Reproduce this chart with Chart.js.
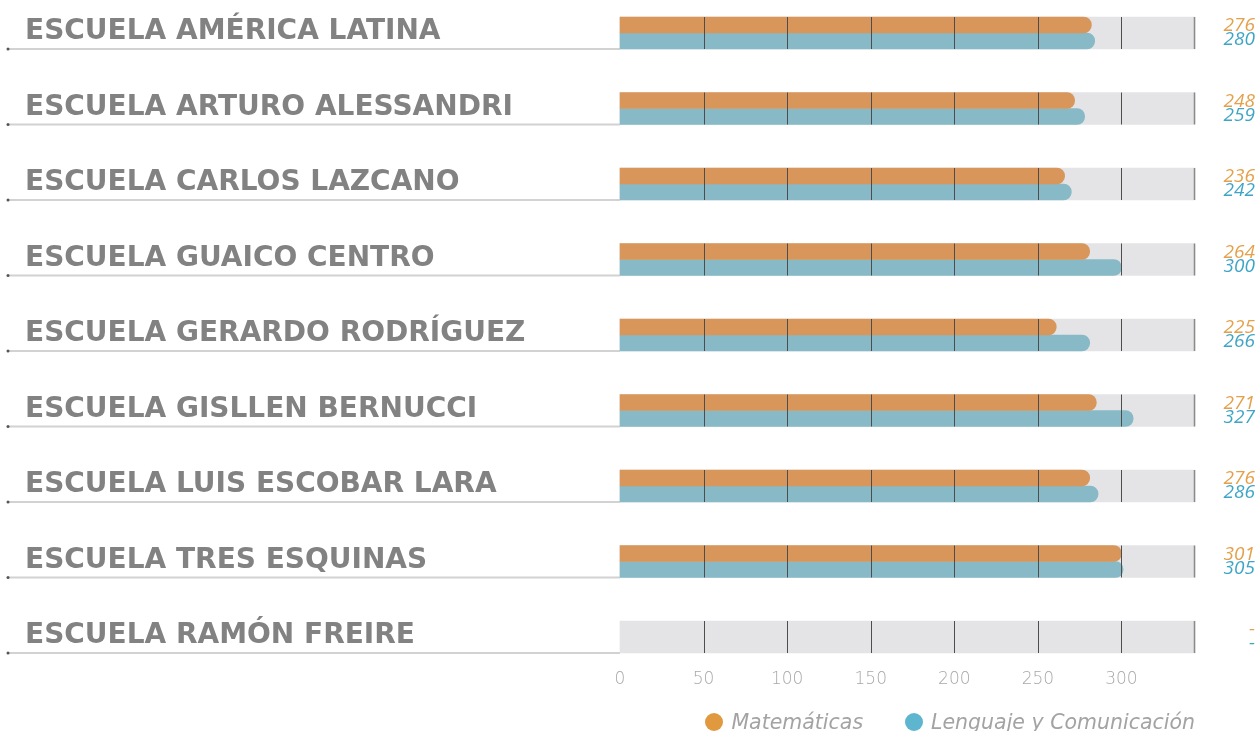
<!doctype html>
<html lang="es">
<head>
    <meta charset="utf-8">
    <title>Resultados por escuela</title>
    <script src="https://cdn.jsdelivr.net/npm/chart.js"></script>
    <style>
        body { margin: 0; background: #ffffff; overflow: hidden; }
        .chart-container { position: relative; width: 1259px; height: 731px; }
        #legend {
            position: absolute; right: 64px; top: 710px;
            display: flex; align-items: center; gap: 42px;
            font-family: "DejaVu Sans", sans-serif; font-weight: 200; font-style: italic;
            font-size: 20.5px; line-height: 24px; color: #a3a3a3;
        }
        #legend .item { display: flex; align-items: center; gap: 8px; white-space: nowrap; }
        #legend .dot { width: 18px; height: 18px; border-radius: 50%; display: inline-block; }
    </style>
</head>
<body>
<div class="chart-container">
    <canvas id="school-chart"></canvas>
    <div id="legend"></div>
</div>
<script>
    // CATEGORIES
    const schools = [
        'ESCUELA AMÉRICA LATINA',
        'ESCUELA ARTURO ALESSANDRI',
        'ESCUELA CARLOS LAZCANO',
        'ESCUELA GUAICO CENTRO',
        'ESCUELA GERARDO RODRÍGUEZ',
        'ESCUELA GISLLEN BERNUCCI',
        'ESCUELA LUIS ESCOBAR LARA',
        'ESCUELA TRES ESQUINAS',
        'ESCUELA RAMÓN FREIRE'
    ]

    // bar lengths as they sit on the axis
    const mathValues = [282, 272, 266, 281, 261, 285, 281, 300, null]
    const langValues = [284, 278, 270, 300, 281, 307, 286, 301, null]

    // scores printed at the right of each row
    const mathScores = ['276', '248', '236', '264', '225', '271', '276', '301', '-']
    const langScores = ['280', '259', '242', '300', '266', '327', '286', '305', '-']

    const seriesNames = ['Matemáticas', 'Lenguaje y Comunicación']
    const axisMax = 344
    const trackValues = schools.map(() => axisMax)

    const ORANGE = '#d8965a'
    const BLUE = '#87b9c7'
    const ORANGE_TEXT = '#e4a04a'
    const BLUE_TEXT = '#3fa5c6'
    const LEGEND_COLORS = ['#e1993f', '#5db5cf']

    // underline under each school name + grid lines inside the grey track + scores
    const rowDecorations = {
        id: 'rowDecorations',
        beforeDatasetsDraw(chart) {
            const ctx = chart.ctx
            const track = chart.getDatasetMeta(2).data
            ctx.save()
            track.forEach((bar) => {
                const bottom = bar.y + bar.height / 2
                ctx.strokeStyle = '#d2d2d2'
                ctx.lineWidth = 2
                ctx.beginPath()
                ctx.moveTo(9, bottom)
                ctx.lineTo(chart.chartArea.left, bottom)
                ctx.stroke()
                ctx.fillStyle = '#555555'
                ctx.beginPath()
                ctx.arc(8, bottom, 1.5, 0, Math.PI * 2)
                ctx.fill()
            })
            ctx.restore()
        },
        afterDatasetsDraw(chart) {
            const ctx = chart.ctx
            const x = chart.scales.x
            const track = chart.getDatasetMeta(2).data
            ctx.save()
            track.forEach((bar, i) => {
                const top = bar.y - bar.height / 2
                const bottom = bar.y + bar.height / 2
                // GRID
                x.ticks.forEach((t) => {
                    if (t.value === 0) return
                    const px = Math.round(x.getPixelForValue(t.value)) + 0.5
                    ctx.strokeStyle = '#4d4d4d'
                    ctx.lineWidth = 1
                    ctx.beginPath()
                    ctx.moveTo(px, top)
                    ctx.lineTo(px, bottom)
                    ctx.stroke()
                })
                const endPx = Math.round(x.getPixelForValue(axisMax)) - 0.5
                ctx.strokeStyle = '#8a8a8a'
                ctx.lineWidth = 1.5
                ctx.beginPath()
                ctx.moveTo(endPx, top)
                ctx.lineTo(endPx, bottom)
                ctx.stroke()

                // SCORES
                ctx.font = 'italic 400 19px "Open Sans", sans-serif'
                ctx.textAlign = 'right'
                ctx.textBaseline = 'middle'
                ctx.fillStyle = ORANGE_TEXT
                ctx.fillText(mathScores[i], chart.width - 4, bar.y - 7)
                ctx.fillStyle = BLUE_TEXT
                ctx.fillText(langScores[i], chart.width - 4, bar.y + 7)
            })
            ctx.restore()
        }
    }

    const schoolChart = new Chart(document.getElementById('school-chart').getContext('2d'), {
        type: 'bar',
        plugins: [rowDecorations],
        data: {
            labels: schools,
            datasets: [{
                label: seriesNames[0],
                data: mathValues,
                backgroundColor: ORANGE,
                barThickness: 16,
                borderRadius: 8,
                borderSkipped: 'start',
                clip: false,
                order: 0
            }, {
                label: seriesNames[1],
                data: langValues,
                backgroundColor: BLUE,
                barThickness: 16,
                borderRadius: 8,
                borderSkipped: 'start',
                clip: false,
                order: 0
            }, {
                label: 'track',
                data: trackValues,
                backgroundColor: '#e4e4e7',
                barThickness: 32,
                grouped: false,
                clip: false,
                order: 5
            }]
        },
        options: {
            indexAxis: 'y',
            responsive: true,
            maintainAspectRatio: false,
            animation: false,
            layout: {
                padding: {left: 25, top: 33, right: 64, bottom: 34}
            },
            scales: {
                x: {
                    min: 0,
                    max: axisMax,
                    grid: {display: false},
                    border: {display: false},
                    ticks: {
                        stepSize: 50,
                        includeBounds: false,
                        padding: 24,
                        color: '#a8a8a8',
                        font: {family: 'DejaVu Sans', size: 17, weight: 200}
                    },
                    afterFit(scale) {
                        scale.height = 60
                    }
                },
                y: {
                    offset: false,
                    grid: {display: false},
                    border: {display: false},
                    ticks: {
                        crossAlign: 'far',
                        labelOffset: -1,
                        color: '#828282',
                        font: {family: 'DejaVu Sans', size: 28, weight: 'bold'}
                    },
                    afterFit(scale) {
                        scale.width = 595
                    }
                }
            },
            plugins: {
                tooltip: {enabled: false},
                legend: {display: false}
            }
        }
    })

    // HTML LEGEND (only the two series, not the grey track)
    const legendBox = document.getElementById('legend')
    seriesNames.forEach((name, i) => {
        const item = document.createElement('span')
        item.className = 'item'
        const dot = document.createElement('span')
        dot.className = 'dot'
        dot.style.background = LEGEND_COLORS[i]
        const text = document.createElement('span')
        text.textContent = name
        item.appendChild(dot)
        item.appendChild(text)
        legendBox.appendChild(item)
    })
</script>
</body>
</html>
